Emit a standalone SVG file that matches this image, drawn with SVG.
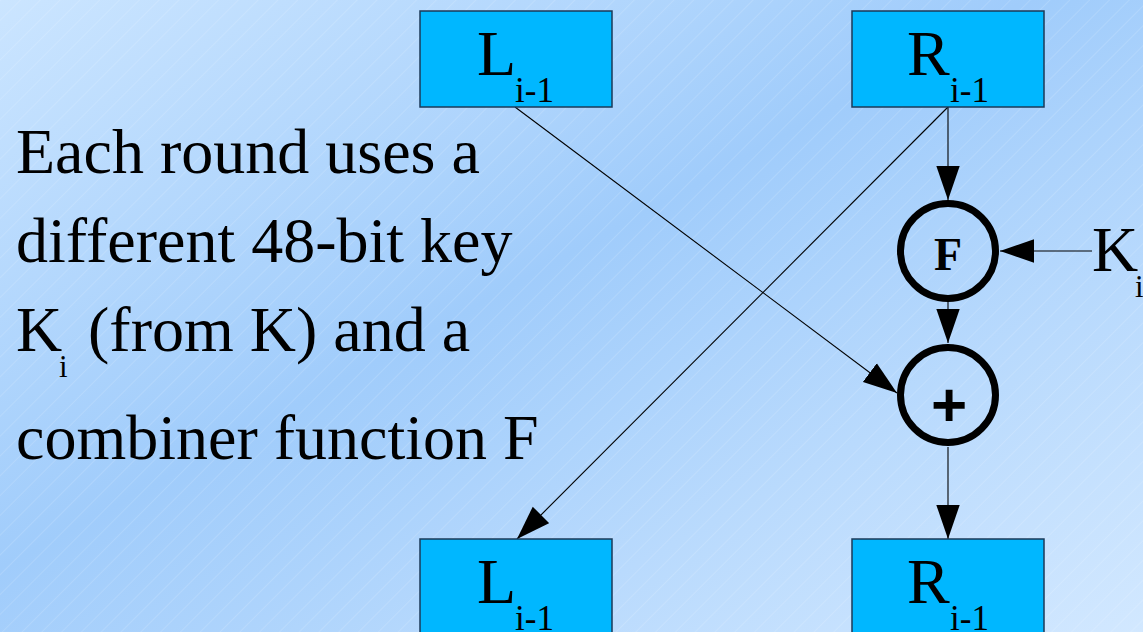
<svg xmlns="http://www.w3.org/2000/svg" width="1143" height="632" viewBox="0 0 1143 632">
  <defs>
    <linearGradient id="bg" x1="0" y1="0" x2="1" y2="1">
      <stop offset="0" stop-color="#cbe5ff"/>
      <stop offset="0.45" stop-color="#a0ccfb"/>
      <stop offset="1" stop-color="#d2e8ff"/>
    </linearGradient>
    <pattern id="hatch" width="14" height="14" patternUnits="userSpaceOnUse" patternTransform="rotate(45)">
      <line x1="0" y1="0" x2="0" y2="14" stroke="#ffffff" stroke-width="0.8" stroke-opacity="0.35"/>
    </pattern>
    <marker id="arrow" markerUnits="userSpaceOnUse" markerWidth="34" markerHeight="24" viewBox="0 0 32 22" refX="32" refY="11" orient="auto">
      <path d="M0,0 L32,11 L0,22 Z" fill="#000"/>
    </marker>
    <style>
      text { font-family: 'Liberation Serif', 'Times New Roman', Tinos, 'DejaVu Serif', serif; }
      .box { fill: #00b7ff; stroke: #1b3a58; stroke-width: 1.5; }
      .big { font-size: 64px; fill: #000; }
      .sub { font-size: 35px; fill: #000; }
      .ksub { font-size: 31px; fill: #000; }
      .op { fill: none; stroke: #000; stroke-width: 7; }
      .conn { stroke: #000; stroke-width: 1.1; fill: none; marker-end: url(#arrow); }
      .plus { font-family: 'Liberation Sans', Arial, sans-serif; font-weight: bold; font-size: 62px; }
    </style>
  </defs>

  <!-- background -->
  <rect width="1143" height="632" fill="url(#bg)"/>
  <rect width="1143" height="632" fill="url(#hatch)"/>

  <!-- explanatory text -->
  <g id="caption">
    <text class="big" x="16" y="173">Each round uses a</text>
    <text class="big" x="16" y="262">different 48-bit key</text>
    <text class="big" x="16" y="351">K</text>
    <text class="ksub" x="59" y="377">i</text>
    <text class="big" x="88" y="351">(from K) and a</text>
    <text class="big" x="16" y="459">combiner function F</text>
  </g>

  <!-- connectors -->
  <g id="connectors">
    <line class="conn" x1="515" y1="107" x2="897" y2="393"/>
    <line class="conn" x1="948" y1="107" x2="517" y2="539"/>
    <line class="conn" x1="948" y1="107" x2="948" y2="200"/>
    <line class="conn" x1="1092" y1="251" x2="1000" y2="251"/>
    <line class="conn" x1="948" y1="302" x2="948" y2="343"/>
    <line class="conn" x1="948" y1="447" x2="948" y2="539"/>
  </g>

  <g id="L-in">
    <rect class="box" x="420" y="11" width="192" height="96"/>
    <text class="big" x="477" y="75">L</text>
    <text class="sub" x="515" y="102">i-1</text>
  </g>

  <g id="R-in">
    <rect class="box" x="852" y="11" width="192" height="96"/>
    <text class="big" x="907" y="75">R</text>
    <text class="sub" x="950" y="102">i-1</text>
  </g>

  <g id="F-func">
    <circle class="op" cx="948" cy="251" r="47.5"/>
    <text x="948" y="270" text-anchor="middle" font-weight="bold" font-size="46">F</text>
  </g>

  <g id="key">
    <text class="big" x="1092" y="271">K</text>
    <text class="ksub" x="1135" y="297">i</text>
  </g>

  <g id="xor">
    <circle class="op" cx="948" cy="395" r="47.5"/>
    <text class="plus" x="949" y="426" text-anchor="middle">+</text>
  </g>

  <g id="L-out">
    <rect class="box" x="420" y="539" width="192" height="110"/>
    <text class="big" x="477" y="603">L</text>
    <text class="sub" x="515" y="630">i-1</text>
  </g>

  <g id="R-out">
    <rect class="box" x="852" y="539" width="192" height="110"/>
    <text class="big" x="907" y="603">R</text>
    <text class="sub" x="950" y="630">i-1</text>
  </g>
</svg>
